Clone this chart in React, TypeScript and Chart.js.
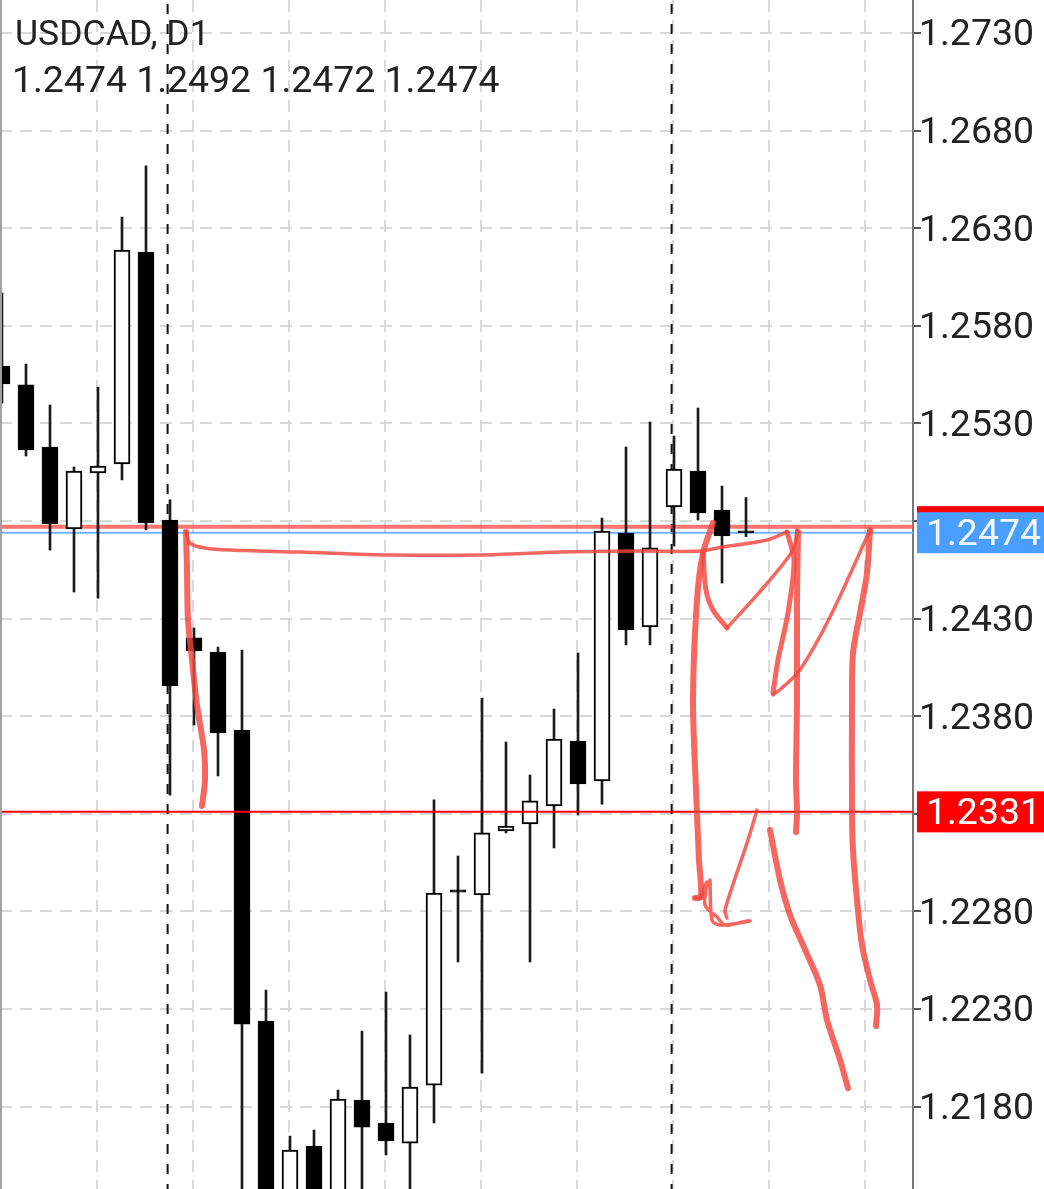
import React, { useEffect, useRef } from "react";
import { Chart, registerables } from "chart.js";

Chart.register(...registerables);

const FONT = "Roboto, 'Liberation Sans', sans-serif";

const opens = [1.25594, 1.25497, 1.25179, 1.24759, 1.25046, 1.25092, 1.26178, 1.24805, 1.24201, 1.24129, 1.23729, 1.22238, 1.2125, 1.21598, 1.2125, 1.21834, 1.21716, 1.21613, 1.2191, 1.2291, 1.22884, 1.23212, 1.23248, 1.2334, 1.23673, 1.23468, 1.24738, 1.24257, 1.24872, 1.25056, 1.24856, 1.2474];
const closes = [1.25502, 1.25164, 1.24785, 1.25056, 1.25082, 1.26188, 1.2479, 1.23955, 1.24134, 1.23714, 1.22223, 1.2115, 1.21578, 1.2125, 1.21839, 1.21695, 1.21624, 1.219, 1.22894, 1.22899, 1.23202, 1.23237, 1.23366, 1.23683, 1.23453, 1.24749, 1.24242, 1.24662, 1.25066, 1.24841, 1.24723, 1.2474];
const highs = [1.25968, 1.25604, 1.25394, 1.25077, 1.25486, 1.26357, 1.26619, 1.24908, 1.24252, 1.24154, 1.24139, 1.22397, 1.21649, 1.2168, 1.21885, 1.22187, 1.22387, 1.22167, 1.23371, 1.23084, 1.23893, 1.23668, 1.23499, 1.23837, 1.24124, 1.24815, 1.25179, 1.25307, 1.25235, 1.25379, 1.24979, 1.2492];
const lows = [1.25404, 1.25133, 1.24651, 1.24436, 1.24405, 1.2501, 1.24754, 1.23396, 1.23755, 1.23494, 1.211, 1.2105, 1.2115, 1.212, 1.212, 1.2135, 1.21552, 1.213, 1.21716, 1.22541, 1.21972, 1.23202, 1.22541, 1.23125, 1.23294, 1.2335, 1.24165, 1.24165, 1.24672, 1.24805, 1.24482, 1.2472];

const priceTicks = [1.273, 1.268, 1.263, 1.258, 1.253, 1.248, 1.243, 1.238, 1.233, 1.228, 1.223, 1.218];
const shownTicks = [1.273, 1.268, 1.263, 1.258, 1.253, 1.243, 1.238, 1.228, 1.223, 1.218];
const timeGrid = [3.96, 7.96, 11.96, 15.96, 19.96, 23.96, 27.96, 31.96, 35.96];
const periodSeparators = [6.9, 27.9];

const axisMin = 1.21378;
const axisMax = 1.27469;
const barMin = -0.0833;
const barMax = 37.958;

const headerLines = ["USDCAD, D1", "1.2474 1.2492 1.2472 1.2474"];
const bidPrice = 1.2474;
const alertPrice = 1.2331;
const pinkPrice = 1.24771;

const strokeDownLeft = [[7.667, 1.24744], [7.708, 1.24549], [7.75, 1.24293], [7.917, 1.24088], [8.125, 1.23857], [8.417, 1.23627], [8.458, 1.23473], [8.333, 1.2334]];
const strokeAcross = [[7.667, 1.24744], [7.833, 1.24687], [8.458, 1.24662], [9.5, 1.24651], [12.417, 1.24641], [16.167, 1.24626], [19.917, 1.24626], [23.25, 1.24641], [26.583, 1.24646], [29.083, 1.24646], [30.04, 1.24667], [31.875, 1.24703], [32.708, 1.24744]];
const strokeTall = [[29.625, 1.2479], [29.208, 1.24636], [28.958, 1.24395], [28.792, 1.23883], [28.917, 1.23422], [29.042, 1.23063], [29.125, 1.22874], [28.875, 1.22869]];
const strokeCheck = [[29.208, 1.24636], [29.333, 1.24446], [29.625, 1.24344], [30.208, 1.24252]];
const strokeCheckUp = [[30.208, 1.24252], [31.458, 1.24421], [32.958, 1.24651], [33.125, 1.24754]];
const strokeRight = [[33.167, 1.24744], [33.125, 1.24395], [33.125, 1.23883], [33.083, 1.23473], [33.125, 1.23304], [33.083, 1.23207]];
const strokeLoop = [[32.708, 1.24744], [33.0, 1.246], [32.75, 1.24329], [32.333, 1.24088], [32.125, 1.23919]];
const strokeLoopUp = [[32.125, 1.23909], [32.542, 1.2395], [33.25, 1.24037], [34.5, 1.24308], [36.167, 1.24754]];
const strokeFar = [[36.167, 1.24754], [36.042, 1.24533], [35.75, 1.24329], [35.458, 1.24124], [35.417, 1.23883], [35.417, 1.23304], [35.458, 1.23114], [35.625, 1.22858], [35.833, 1.22628], [36.167, 1.22449], [36.458, 1.2232], [36.417, 1.22213]];
const strokeFall = [[32.0, 1.23217], [32.417, 1.22961], [32.833, 1.22782], [33.375, 1.22628], [34.083, 1.22423], [34.375, 1.22244], [34.917, 1.22039], [35.25, 1.21895]];
const strokeThinUp = [[31.458, 1.23319], [31.083, 1.23166], [30.125, 1.22807], [30.208, 1.22766]];
const strokeHook = [[28.875, 1.22869], [29.083, 1.22869], [29.375, 1.22951], [29.292, 1.22833], [29.792, 1.22771], [30.125, 1.2273], [31.042, 1.22751], [31.167, 1.22751], [29.917, 1.2273], [29.583, 1.22756], [29.5, 1.22961]];

const thickStrokes = [strokeDownLeft, strokeTall, strokeRight, strokeFar, strokeFall];
const mediumStrokes = [strokeCheck, strokeLoop];
const thinStrokes = [strokeAcross, strokeCheckUp, strokeLoopUp, strokeThinUp, strokeHook];

const STROKE = "rgba(243,70,60,0.82)";

const overlayPlugin = {
  id: "overlay",
  afterDraw(chart: any) {
    const { ctx, chartArea, scales } = chart;
    const y = scales.y;
    ctx.save();
    ctx.fillStyle = "#a0a0a0";
    ctx.fillRect(chartArea.left, chartArea.top, 2, chartArea.bottom - chartArea.top);

    const tagLeft = chartArea.right + 4;
    const tagWidth = chart.width - tagLeft;
    const tagHeight = 41;
    ctx.font = `37.4px ${FONT}`;
    ctx.textAlign = "left";
    ctx.textBaseline = "middle";

    ctx.fillStyle = "#ff0000";
    ctx.fillRect(tagLeft, y.getPixelForValue(pinkPrice) - tagHeight / 2, tagWidth, tagHeight);

    ctx.fillStyle = "#4a9eff";
    ctx.fillRect(tagLeft, y.getPixelForValue(bidPrice) - tagHeight / 2, tagWidth, tagHeight);
    ctx.fillStyle = "#f4f8ff";
    ctx.fillText(bidPrice.toFixed(4), chartArea.right + 13, y.getPixelForValue(bidPrice) + 3);

    ctx.fillStyle = "#ff0000";
    ctx.fillRect(tagLeft, y.getPixelForValue(alertPrice) - tagHeight / 2, tagWidth, tagHeight);
    ctx.fillStyle = "#ffffff";
    ctx.fillText(alertPrice.toFixed(4), chartArea.right + 13, y.getPixelForValue(alertPrice) + 3);

    ctx.fillStyle = "#222222";
    ctx.font = `35.6px ${FONT}`;
    ctx.fillText(headerLines[0], 15, 36);
    ctx.font = `37.4px ${FONT}`;
    ctx.fillText(headerLines[1], 12, 83);
    ctx.restore();
  },
};

function lineSet(points: number[][], width: number, color: string, order: number, extra: any = {}) {
  return {
    type: "line",
    data: points.map(([x, y]) => ({ x, y })),
    borderColor: color,
    borderWidth: width,
    pointRadius: 0,
    fill: false,
    order,
    ...extra,
  };
}

export default function App() {
  const canvasRef = useRef<HTMLCanvasElement>(null);

  useEffect(() => {
    document.body.style.margin = "0";
    document.body.style.background = "#ffffff";
    const index = opens.map((_, i) => i);
    const strokeStyle = { tension: 0.3, borderCapStyle: "round", borderJoinStyle: "round" };
    const levelPoints = (price: number) => [[barMin, price], [barMax, price]];

    const chart = new Chart(canvasRef.current as HTMLCanvasElement, {
      type: "bar",
      plugins: [overlayPlugin],
      data: {
        datasets: [
          ...periodSeparators.map((x) =>
            lineSet([[x, axisMin], [x, axisMax]], 2, "#111111", 6, { borderDash: [10, 10], borderDashOffset: 5 })
          ),
          lineSet(levelPoints(pinkPrice), 4, "rgba(250,80,80,0.8)", 5),
          lineSet(levelPoints(bidPrice), 2, "#6fb2ff", 5),
          {
            type: "bar",
            data: index.map((i) => ({ x: i, y: [lows[i], highs[i]] })),
            backgroundColor: "#1c1c1c",
            barThickness: 2,
            grouped: false,
            order: 4,
          },
          {
            type: "bar",
            data: index.map((i) => ({ x: i, y: [opens[i], closes[i]] })),
            backgroundColor: index.map((i) => (closes[i] > opens[i] ? "#ffffff" : "#000000")),
            borderColor: "#000000",
            borderWidth: 2,
            borderSkipped: false,
            barThickness: 16,
            minBarLength: 2,
            grouped: false,
            order: 3,
          },
          lineSet(levelPoints(alertPrice), 2, "#ff0000", 2),
          ...thickStrokes.map((s) => lineSet(s, 6, STROKE, 1, strokeStyle)),
          ...mediumStrokes.map((s) => lineSet(s, 5, STROKE, 1, strokeStyle)),
          ...thinStrokes.map((s) => lineSet(s, 3.5, STROKE, 1, strokeStyle)),
        ] as any,
      },
      options: {
        responsive: false,
        animation: false,
        layout: { padding: 0 },
        plugins: { legend: { display: false }, tooltip: { enabled: false }, title: { display: false } },
        scales: {
          x: {
            type: "linear",
            min: barMin,
            max: barMax,
            offset: false,
            afterBuildTicks: (scale: any) => {
              scale.ticks = timeGrid.map((value) => ({ value }));
            },
            ticks: { display: false, autoSkip: false },
            border: { display: false, dash: [12, 8] },
            grid: { offset: false, color: "#d9d9d9", lineWidth: 2, drawTicks: false, tickLength: 0 },
          },
          y: {
            position: "right",
            min: axisMin,
            max: axisMax,
            afterFit: (scale: any) => {
              scale.width = 131;
              scale.paddingTop = 0;
              scale.paddingBottom = 0;
            },
            afterBuildTicks: (scale: any) => {
              scale.ticks = priceTicks.map((value) => ({ value }));
            },
            ticks: {
              autoSkip: false,
              padding: -2,
              labelOffset: 3,
              color: "#222222",
              font: { family: FONT, size: 37.4 },
              callback: (v: any) => (shownTicks.some((t) => Math.abs(t - v) < 1e-6) ? Number(v).toFixed(4) : ""),
            },
            border: { display: true, color: "#777777", width: 2, dash: [12, 8] },
            grid: {
              color: "#d9d9d9",
              lineWidth: 2,
              tickColor: "#555555",
              tickLength: 8,
              tickBorderDash: [],
            },
          },
        },
      } as any,
    });
    return () => chart.destroy();
  }, []);

  return (
    <canvas
      ref={canvasRef}
      width={1044}
      height={1189}
      style={{ position: "absolute", left: 0, top: 0, display: "block" }}
    />
  );
}
